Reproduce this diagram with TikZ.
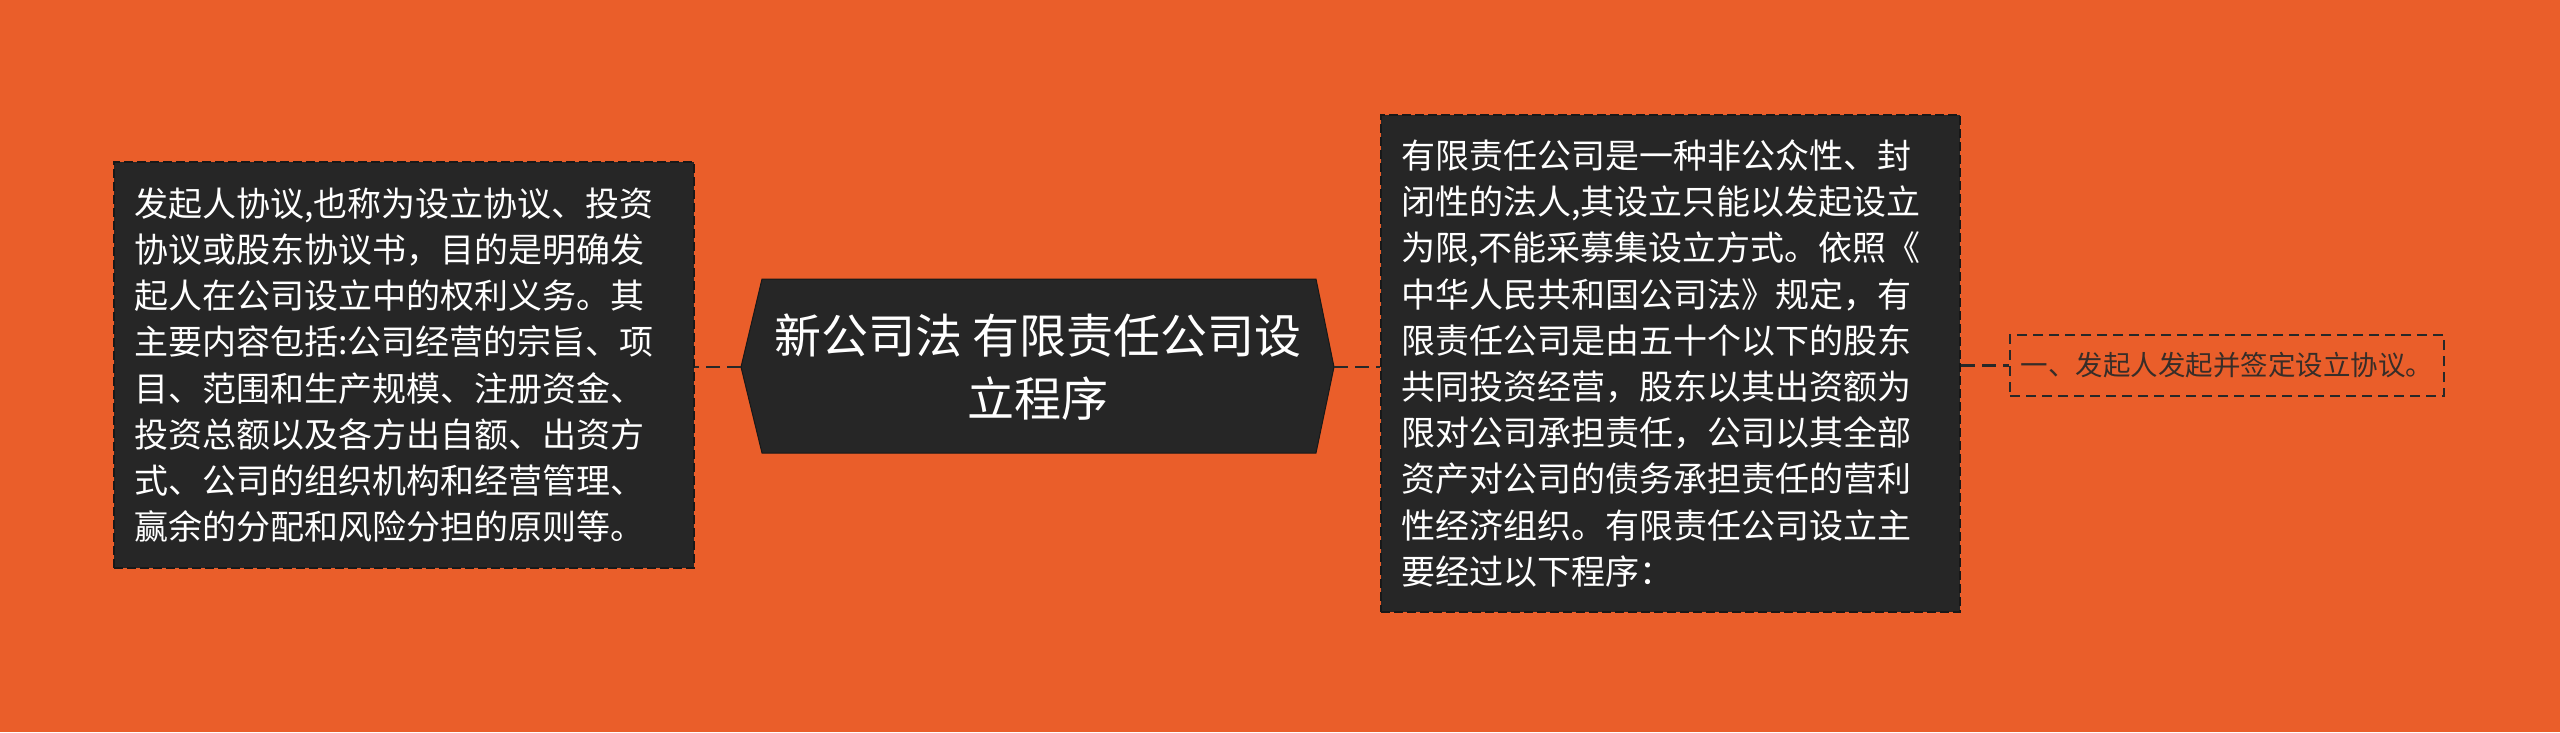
\documentclass[tikz,border=0pt]{standalone}
\usepackage{fontspec}
\setmainfont{Noto Sans CJK SC}
\definecolor{bgc}{RGB}{234,94,42}
\definecolor{boxc}{RGB}{38,38,38}
\definecolor{borderc}{RGB}{24,24,24}
\definecolor{linec}{RGB}{40,40,40}
\definecolor{smalltext}{RGB}{55,45,40}
\begin{document}
\begin{tikzpicture}[x=1pt,y=-1pt,
  darkbox/.style={fill=boxc, draw=borderc, line width=2pt, dash pattern=on 9pt off 4pt,
    text=white, font=\fontsize{34}{46.2}\selectfont, align=left, inner xsep=20pt, inner ysep=0pt},
  conn/.style={draw=linec, line width=2.5pt, dash pattern=on 14pt off 7pt},
  leafbox/.style={draw=linec, line width=2pt, dash pattern=on 10pt off 6pt, text=smalltext,
    font=\fontsize{27.5}{30}\selectfont, inner sep=0pt},
  hexfill/.style={fill=boxc, draw=borderc, line width=1pt}]
\fill[bgc] (0,0) rectangle (2560,732);
\useasboundingbox (0,0) rectangle (2560,732);

\coordinate (CL) at (741,367);
\coordinate (CR) at (1334,367);
\fill[hexfill] (CL) -- (762,279) -- (1316,279) -- (CR) -- (1316,453) -- (762,453) -- cycle;
\node[text=white, font=\fontsize{47}{63}\selectfont, align=center] (C) at (1038,367)
  {新公司法 有限责任公司设\\立程序};

\node[darkbox, text width=540pt, minimum height=406pt] (L) at (404,365) {发起人协议,也称为设立协议、投资\\
协议或股东协议书，目的是明确发\\
起人在公司设立中的权利义务。其\\
主要内容包括:公司经营的宗旨、项\\
目、范围和生产规模、注册资金、\\
投资总额以及各方出自额、出资方\\
式、公司的组织机构和经营管理、\\
赢余的分配和风险分担的原则等。};

\node[darkbox, text width=539pt, minimum height=497pt] (R) at (1670.5,363.5) {有限责任公司是一种非公众性、封\\
闭性的法人,其设立只能以发起设立\\
为限,不能采募集设立方式。依照《\\
中华人民共和国公司法》规定，有\\
限责任公司是由五十个以下的股东\\
共同投资经营，股东以其出资额为\\
限对公司承担责任，公司以其全部\\
资产对公司的债务承担责任的营利\\
性经济组织。有限责任公司设立主\\
要经过以下程序：};

\node[leafbox, minimum width=434pt, minimum height=61pt] (F) at (2227,365.5) {一、发起人发起并签定设立协议。};

\draw[conn] (CL) -- (L.east |- CL);
\draw[conn] (CR) -- (R.west |- CR);
\draw[conn] (R.east |- F.west) -- (F.west);
\end{tikzpicture}
\end{document}
